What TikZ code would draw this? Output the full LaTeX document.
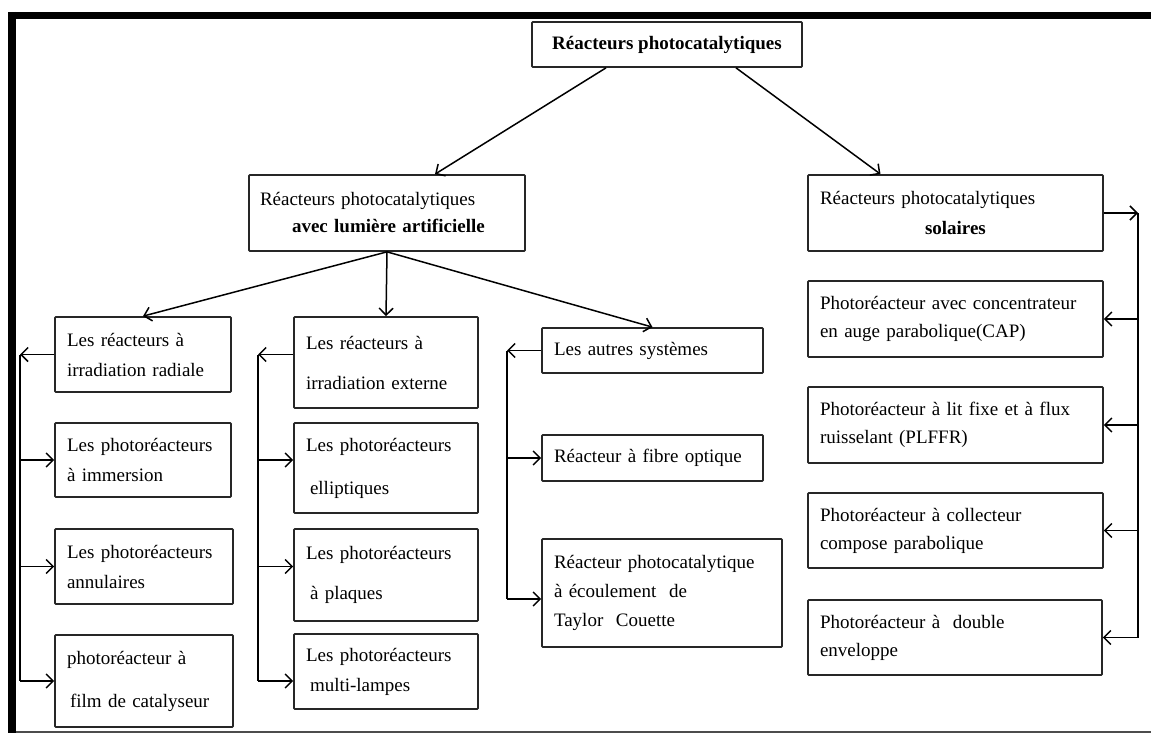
\documentclass[tikz,border=0pt]{standalone}
\usepackage{fontspec}
\setmainfont{Liberation Serif}
\usetikzlibrary{arrows.meta}
\begin{document}
\begin{tikzpicture}[x=1pt,y=-1pt,
  box/.style={draw=black!85, line width=1.7pt, rounded corners=0.8pt, inner xsep=12pt, inner ysep=0pt, align=left, anchor=center},
  fs/.style={font=\fontsize{19}{#1}\selectfont},
  arr/.style={-{Straight Barb[length=7pt,width=14pt,line width=1.5pt]}, line width=1.5pt},
  link/.style={line width=1.5pt}]
\useasboundingbox (0,0) rectangle (1151,733);
% frame
\draw[line width=7pt] (8,15.5) -- (1151,15.5);
\draw[line width=8pt] (12,12) -- (12,733);
\draw[line width=2pt, black!70] (16,731.5) -- (1151,731.5);
% top level
\node[box, fs=30, align=center, minimum width=270pt, minimum height=45pt] (top) at (667,44.5) {\textbf{Réacteurs photocatalytiques}};
\node[box, fs=27, inner xsep=11pt, text width=254pt, minimum height=76pt] (art) at (387,213) {Réacteurs photocatalytiques\\\hspace*{32pt}\textbf{avec lumière artificielle}};
\node[box, fs=30, text width=271pt, minimum height=76pt] (solar) at (955.5,213) {Réacteurs photocatalytiques\\\hspace*{105pt}\textbf{solaires}};
% column A
\node[box, fs=30, text width=152pt, minimum height=75pt] (A1) at (143,354.5) {Les réacteurs à\\irradiation radiale};
\node[box, fs=30, text width=152pt, minimum height=74pt] (A2) at (143,460) {Les photoréacteurs\\à immersion};
\node[box, fs=30, text width=154pt, minimum height=75pt] (A3) at (144,566.5) {Les photoréacteurs\\annulaires};
\node[box, fs=43, text width=154pt, minimum height=92pt] (A4) at (144,681) {photoréacteur à\\\hspace*{3pt}film de catalyseur};
% column B
\node[box, fs=40, text width=160pt, minimum height=91pt] (B1) at (386,362.5) {Les réacteurs à\\irradiation externe};
\node[box, fs=43, text width=160pt, minimum height=90pt] (B2) at (386,468) {Les photoréacteurs\\\hspace*{4pt}elliptiques};
\node[box, fs=40, text width=160pt, minimum height=92pt] (B3) at (386,575) {Les photoréacteurs\\\hspace*{4pt}à plaques};
\node[box, fs=30, text width=160pt, minimum height=75pt] (B4) at (386,671.5) {Les photoréacteurs\\\hspace*{4pt}multi-lampes};
% column C
\node[box, fs=30, text width=197pt, minimum height=45pt] (C1) at (652.5,350.5) {Les autres systèmes};
\node[box, fs=30, text width=197pt, minimum height=46pt] (C2) at (652.5,458) {Réacteur à fibre optique};
\node[box, fs=29, text width=216pt, minimum height=108pt] (C3) at (662,593) {Réacteur photocatalytique\\à écoulement\ \ de\\Taylor\ \ Couette};
% column D
\node[box, fs=28, text width=271pt, minimum height=76pt] (D1) at (955.5,319) {Photoréacteur avec concentrateur\\en auge parabolique(CAP)};
\node[box, fs=28, text width=271pt, minimum height=76pt] (D2) at (955.5,425) {Photoréacteur à lit fixe et à flux\\ruisselant (PLFFR)};
\node[box, fs=28, text width=271pt, minimum height=75pt] (D3) at (955.5,530.5) {Photoréacteur à collecteur\\compose parabolique};
\node[box, fs=28, text width=270pt, minimum height=75pt] (D4) at (955,637.5) {Photoréacteur à\ \ double\\enveloppe};
% top arrows
\draw[arr] ([xshift=-61pt]top.south) -- ([xshift=48pt]art.north);
\draw[arr] ([xshift=69pt]top.south) -- ([xshift=-75pt]solar.north);
\draw[arr] (art.south) -- (A1.north);
\draw[arr] (art.south) -- (B1.north);
\draw[arr] (art.south) -- (C1.north);
% column A connectors
\coordinate (aX) at (20,0);
\draw[arr] (A1.west) -- (A1.west -| aX);
\draw[link] (A1.west -| aX) -- (A4.west -| aX);
\draw[arr] (A2.west -| aX) -- (A2.west);
\draw[arr] (A3.west -| aX) -- (A3.west);
\draw[arr] (A4.west -| aX) -- (A4.west);
% column B connectors
\coordinate (bX) at (258,0);
\draw[arr] (A1.west -| B1.west) -- (A1.west -| bX);
\draw[link] (A1.west -| bX) -- (A4.west -| bX);
\draw[arr] (A2.west -| bX) -- (A2.west -| B2.west);
\draw[arr] (A3.west -| bX) -- (A3.west -| B3.west);
\draw[arr] (A4.west -| bX) -- (A4.west -| B4.west);
% column C connectors
\coordinate (cX) at (507,0);
\draw[arr] (C1.west) -- (C1.west -| cX);
\draw[link] (C1.west -| cX) -- ([yshift=-6pt]C3.west -| cX);
\draw[arr] (C2.west -| cX) -- (C2.west);
\draw[arr] ([yshift=-6pt]C3.west -| cX) -- ([yshift=-6pt]C3.west);
% column D connectors
\coordinate (dX) at (1138,0);
\draw[arr] (solar.east) -- (solar.east -| dX);
\draw[link] (solar.east -| dX) -- (D4.east -| dX);
\draw[arr] (D1.east -| dX) -- (D1.east);
\draw[arr] (D2.east -| dX) -- (D2.east);
\draw[arr] (D3.east -| dX) -- (D3.east);
\draw[arr] (D4.east -| dX) -- (D4.east);
\end{tikzpicture}
\end{document}
